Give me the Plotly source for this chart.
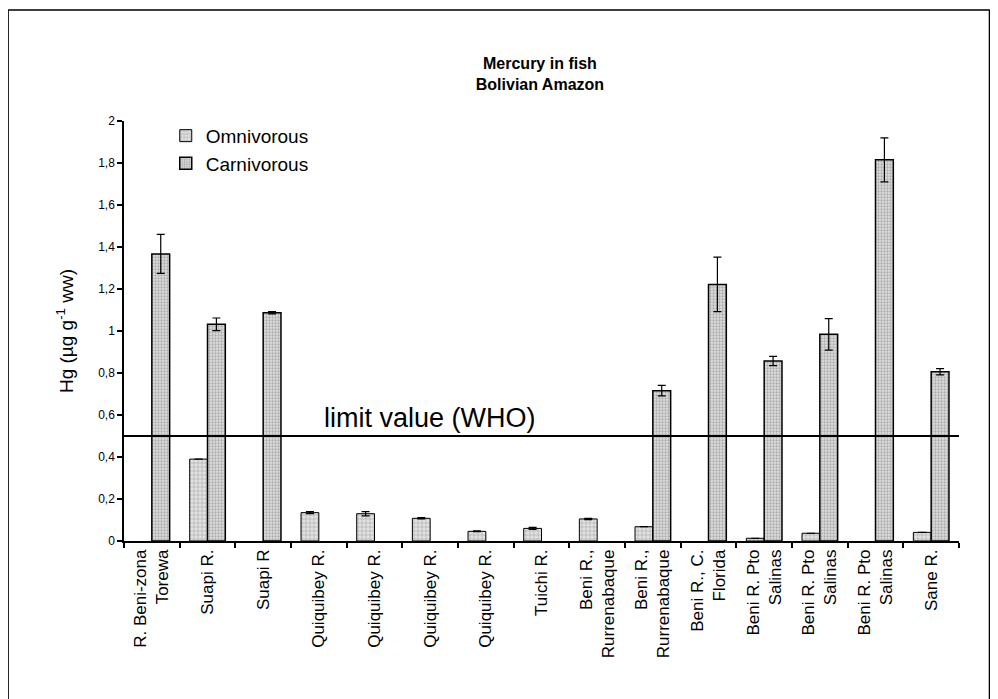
import plotly.graph_objects as go

sites = ["R. Beni-zona<br>Torewa", "Suapi R.", "Suapi R", "Quiquibey R.", "Quiquibey R.",
         "Quiquibey R.", "Quiquibey R.", "Tuichi R.", "Beni R.,<br>Rurrenabaque",
         "Beni R.,<br>Rurrenabaque", "Beni R., C.<br>Florida", "Beni R. Pto<br>Salinas",
         "Beni R. Pto<br>Salinas", "Beni R. Pto<br>Salinas", "Sane R."]
omnivorous = [None, 0.39, None, 0.135, 0.13, 0.108, 0.046, 0.06, 0.105, 0.068, None, 0.013, 0.037, None, 0.041]
omnivorous_err = [0, 0, 0, 0.005, 0.01, 0.003, 0.002, 0.005, 0.003, 0, 0, 0, 0, 0, 0]
carnivorous = [1.367, 1.032, 1.087, None, None, None, None, None, None, 0.716, 1.222, 0.857, 0.984, 1.815, 0.806]
carnivorous_err = [0.093, 0.03, 0.005, 0, 0, 0, 0, 0, 0, 0.025, 0.13, 0.022, 0.075, 0.105, 0.015]
y_ticks = [0, 0.2, 0.4, 0.6, 0.8, 1, 1.2, 1.4, 1.6, 1.8, 2]
y_ticktext = ["0", "0,2", "0,4", "0,6", "0,8", "1", "1,2", "1,4", "1,6", "1,8", "2"]
who_limit = 0.5

xpos = list(range(len(sites)))
FONT = "Liberation Sans, Arial, sans-serif"

# Arial advance widths (em) used to flush multi-line rotated labels toward the axis
_W = {"R": .722, ".": .278, " ": .278, "B": .667, "e": .556, "n": .556, "i": .222, "-": .333,
      "z": .5, "o": .556, "a": .556, "T": .611, "r": .333, "w": .722, "S": .667, "u": .556,
      "p": .556, "Q": .778, "q": .556, "b": .556, "y": .5, "h": .556, "c": .5, ",": .278,
      "C": .722, "F": .611, "l": .222, "d": .556, "P": .667, "t": .278, "s": .5}


def _width(s):
    return sum(_W.get(ch, .556) for ch in s)


def flush_label(label):
    lines = label.split("<br>")
    if len(lines) == 1:
        return label
    wmax = max(_width(l) for l in lines)
    out = []
    for l in lines:
        n = int(round((wmax - _width(l)) / .278))
        out.append("\u00a0" * n + l)
    return "<br>".join(out)


tick_labels = [flush_label(s) for s in sites]

fig = go.Figure()
fig.add_trace(go.Bar(
    x=xpos, y=omnivorous, name="Omnivorous",
    marker=dict(color="#d0d0d0", line=dict(color="black", width=1),
                pattern=dict(shape="+", fgcolor="#777777", bgcolor="#e2e2e2", size=4, solidity=0.3)),
    error_y=dict(type="data", array=omnivorous_err, color="black", thickness=1.2, width=4),
))
fig.add_trace(go.Bar(
    x=xpos, y=carnivorous, name="Carnivorous",
    marker=dict(color="#d0d0d0", line=dict(color="black", width=1.5),
                pattern=dict(shape=".", fgcolor="#7a7a7a", bgcolor="#dedede", size=3, solidity=0.45)),
    error_y=dict(type="data", array=carnivorous_err, color="black", thickness=1.2, width=4),
))

fig.add_shape(type="line", xref="x", yref="y", x0=-0.5, x1=len(sites) - 0.5,
              y0=who_limit, y1=who_limit, line=dict(color="black", width=2))
fig.add_annotation(x=5.0, y=who_limit, xref="x", yref="y", text="limit value (WHO)",
                   showarrow=False, yanchor="bottom", yshift=1,
                   font=dict(family=FONT, size=27, color="black"))

# outer frame
fig.add_shape(type="rect", xref="paper", yref="paper", x0=-0.1388, x1=1.0365, y0=-0.42, y1=1.264,
              line=dict(color="black", width=1.5), fillcolor="rgba(0,0,0,0)")

fig.update_layout(
    width=998, height=699,
    margin=dict(l=116, r=46.5, t=113, b=166),
    paper_bgcolor="white", plot_bgcolor="white",
    barmode="group", bargap=0.36, bargroupgap=0,
    title=dict(text="<b>Mercury in fish<br>Bolivian Amazon</b>", x=0.533, xanchor="center",
               y=0.913, yanchor="middle", font=dict(family=FONT, size=16, color="black")),
    legend=dict(x=0.05, y=1.01, xanchor="left", yanchor="top", bgcolor="rgba(0,0,0,0)",
                font=dict(family=FONT, size=19, color="black"), itemwidth=30),
    font=dict(family=FONT, color="black"),
)
fig.update_xaxes(
    range=[-0.5, len(sites) - 0.5], tickmode="array", tickvals=xpos, ticktext=tick_labels,
    tickangle=-90, ticks="", showline=True, linecolor="black", linewidth=1.5,
    tickfont=dict(family=FONT, size=17, color="black"), showgrid=False, zeroline=False,
    minor=dict(tickmode="array", tickvals=[i - 0.5 for i in range(len(sites) + 1)],
               ticks="outside", ticklen=5, tickcolor="black", tickwidth=1.5),
)
fig.update_yaxes(
    range=[0, 2], tickmode="array", tickvals=y_ticks, ticktext=y_ticktext,
    ticks="outside", ticklen=5, tickcolor="black", tickwidth=1.5,
    showline=True, linecolor="black", linewidth=1.5, showgrid=False, zeroline=False,
    tickfont=dict(family=FONT, size=12, color="black"),
    title=dict(text="Hg (µg g<sup>-1</sup> ww)", font=dict(family=FONT, size=19, color="black"), standoff=20),
)

fig.write_html("out.html")
